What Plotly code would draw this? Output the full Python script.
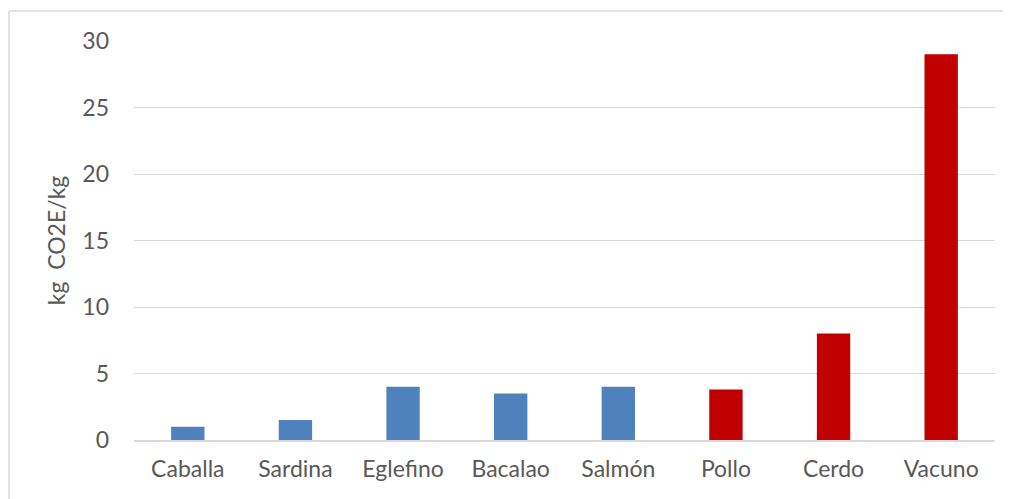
import plotly.graph_objects as go

categories = ["Caballa", "Sardina", "Eglefino", "Bacalao", "Salmón", "Pollo", "Cerdo", "Vacuno"]
values = [1.0, 1.5, 4.0, 3.5, 4.0, 3.8, 8.0, 29.0]
bar_colors = ["#4F81BD"] * 5 + ["#C00000"] * 3
y_ticks = [0, 5, 10, 15, 20, 25, 30]

# page body has an 8px offset, so the figure is laid out accordingly
OFF = 8
W, H = 1011 - OFF, 499 - OFF
L, R, T, B = 134 - OFF, 16, 41 - OFF, 59

fig = go.Figure(go.Bar(x=categories, y=values, marker_color=bar_colors, marker_line_width=0))

font = dict(family="Lato, Open Sans, sans-serif", size=23, color="#595959")
fig.update_layout(
    width=W, height=H,
    margin=dict(l=L, r=R, t=T, b=B),
    plot_bgcolor="white", paper_bgcolor="white",
    bargap=0.69,
    showlegend=False,
    font=font,
)
fig.update_xaxes(showline=True, linecolor="#D9D9D9", linewidth=1.5, showgrid=False,
                 ticks="", ticklabelstandoff=8, tickfont=font)
fig.update_yaxes(range=[0, 30], tickvals=y_ticks, showgrid=True, gridcolor="#D9D9D9",
                 gridwidth=1.3, zeroline=False, showline=False, ticks="",
                 ticklabelstandoff=24, tickfont=font,
                 title=dict(text="kg  CO2E/kg", font=font, standoff=10))

pw, ph = W - L - R, H - T - B
def px_x(v):
    return (v - L) / pw
def px_y(v):
    return (H - B - v) / ph

border = dict(color="#D9D9D9", width=1.5)
# left edge of the chart frame
fig.add_shape(type="line", xref="paper", yref="paper",
              x0=px_x(1), x1=px_x(1), y0=px_y(H + 5), y1=px_y(3), line=border, layer="below")
# top edge of the chart frame
fig.add_shape(type="line", xref="paper", yref="paper",
              x0=px_x(1), x1=px_x(W + 5), y0=px_y(3), y1=px_y(3), line=border, layer="below")

fig.write_html("out.html")
